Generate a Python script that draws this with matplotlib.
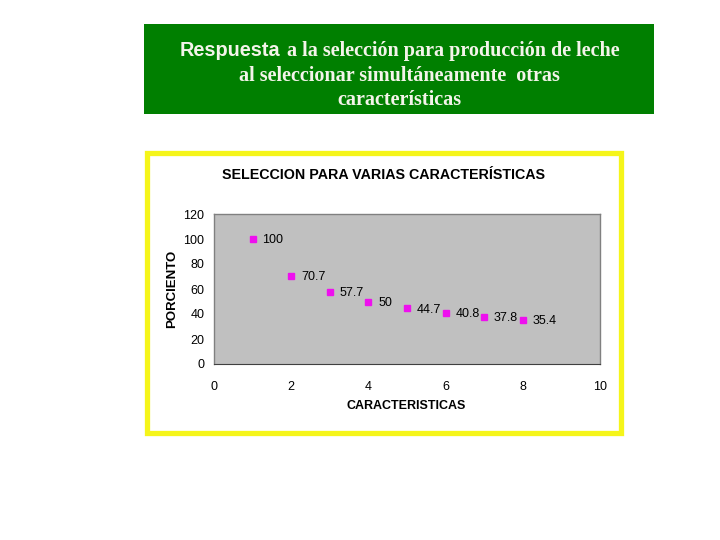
import matplotlib
matplotlib.use("Agg")
import matplotlib.pyplot as plt
from matplotlib.patches import Rectangle

# Data
caracteristicas = [1, 2, 3, 4, 5, 6, 7, 8]
porciento = [100, 70.7, 57.7, 50, 44.7, 40.8, 37.8, 35.4]
etiquetas = ["100", "70.7", "57.7", "50", "44.7", "40.8", "37.8", "35.4"]
xticks = [0, 2, 4, 6, 8, 10]
yticks = [0, 20, 40, 60, 80, 100, 120]

W, H = 720, 540
fig = plt.figure(figsize=(7.2, 5.4), dpi=100)
fig.patch.set_facecolor("white")

def fx(px):
    return px / W

def fy(py):
    return 1 - py / H

# Green header box
fig.patches.append(Rectangle((fx(144), fy(114)), fx(654) - fx(144), fy(24) - fy(114),
                             transform=fig.transFigure, facecolor="#007f00",
                             edgecolor="none", zorder=-2))
txtcol = "#f4f4ea"
serif = ["Liberation Serif", "DejaVu Serif"]
sans = ["Liberation Sans", "DejaVu Sans"]
fig.text(fx(180), fy(51), "Respuesta", fontsize=14.3, family=sans, weight="bold",
         color=txtcol, ha="left", va="center")
fig.text(fx(287), fy(51), "a la selección para producción de leche", fontsize=14.5,
         family=serif, weight="bold", color=txtcol, ha="left", va="center")
fig.text(fx(399), fy(76), "al seleccionar simultáneamente  otras", fontsize=14.5,
         family=serif, weight="bold", color=txtcol, ha="center", va="center")
fig.text(fx(399), fy(100), "características", fontsize=14.5,
         family=serif, weight="bold", color=txtcol, ha="center", va="center")

# Yellow frame
fig.patches.append(Rectangle((fx(146.5), fy(432.5)), fx(620.5) - fx(146.5), fy(152.5) - fy(432.5),
                             transform=fig.transFigure, facecolor="white",
                             edgecolor="#f5f51a", linewidth=3.8, zorder=-2))

fig.text(fx(384), fy(175), "SELECCION PARA VARIAS CARACTERÍSTICAS", fontsize=10.3,
         family=sans, weight="bold", color="black", ha="center", va="center")

ax = fig.add_axes([fx(214), fy(364), fx(600) - fx(214), fy(214) - fy(364)])
ax.set_zorder(2)
ax.set_facecolor("#c0c0c0")
for s in ["top", "right", "left"]:
    ax.spines[s].set_color("#808080")
    ax.spines[s].set_linewidth(1)
ax.spines["bottom"].set_color("#404040")

ax.plot(caracteristicas, porciento, linestyle="none", marker="s", markersize=5,
        color="#ee10ee", markeredgecolor="#ee10ee")
for xv, yv, lab in zip(caracteristicas, porciento, etiquetas):
    ax.annotate(lab, (xv, yv), xytext=(7, -1), textcoords="offset points",
                fontsize=9, family=sans, ha="left", va="center", color="black")

ax.set_xlim(0, 10)
ax.set_ylim(0, 120)
ax.set_xticks(xticks)
ax.set_yticks(yticks)
ax.tick_params(axis="both", length=0, labelsize=9)
ax.tick_params(axis="x", pad=12)
ax.tick_params(axis="y", pad=7)
for lab in ax.get_xticklabels() + ax.get_yticklabels():
    lab.set_family(sans)

fig.text(fx(406), fy(406), "CARACTERISTICAS", fontsize=9, family=sans, weight="bold",
         ha="center", va="center")
fig.text(fx(172), fy(289), "PORCIENTO", fontsize=9.5, family=sans, weight="bold",
         ha="center", va="center", rotation=90)

fig.savefig("out.png", dpi=100)
